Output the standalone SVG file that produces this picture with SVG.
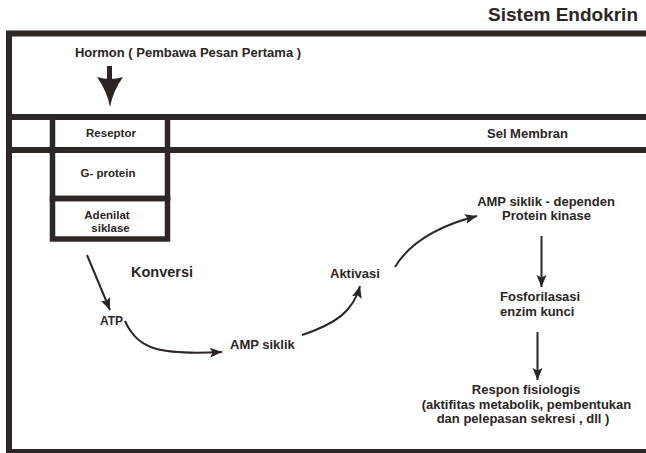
<svg xmlns="http://www.w3.org/2000/svg" width="646" height="453" viewBox="0 0 646 453">
  <style>
    text { font-family: "Liberation Sans", Arial, sans-serif; font-weight: bold; fill: #2b2524; }
    .frame { fill: none; stroke: #2e2725; stroke-width: 6; }
    .box { fill: none; stroke: #2e2725; stroke-width: 5.5; }
    .lbl { font-size: 11.5px; text-anchor: middle; }
    .t13 { font-size: 13px; }
    .mid { text-anchor: middle; }
    .conn { fill: none; stroke: #2b2524; stroke-width: 2; marker-end: url(#head); }
  </style>
  <defs>
    <marker id="head" markerUnits="userSpaceOnUse" markerWidth="14" markerHeight="12" refX="12" refY="5" orient="auto">
      <path d="M0,0 L12,5 L0,10 L2.5,5 Z" fill="#2b2524"/>
    </marker>
  </defs>

  <rect width="646" height="453" fill="#ffffff"/>

  <!-- title -->
  <text x="638" y="21" font-size="19" text-anchor="end">Sistem Endokrin</text>

  <!-- outer frame, open on the right -->
  <path class="frame" d="M646,33.5 H9 V452 H646"/>

  <!-- cell membrane band -->
  <g id="membrane">
    <line class="frame" x1="9" y1="117" x2="646" y2="117"/>
    <line class="frame" x1="9" y1="150" x2="646" y2="150"/>
    <text class="t13" x="487" y="138" font-size="13.5">Sel Membran</text>
  </g>

  <!-- hormone signal -->
  <g id="hormon">
    <text class="t13 mid" x="188" y="57">Hormon ( Pembawa Pesan Pertama )</text>
    <rect x="107" y="66" width="5" height="14" fill="#2b2524"/>
    <path d="M97,77 Q110,81 123,77 Q113,91 110,107 Q107,91 97,77 Z" fill="#2b2524"/>
  </g>

  <g id="reseptor">
    <rect class="box" x="52.5" y="117" width="115" height="33"/>
    <text class="lbl" x="111" y="137">Reseptor</text>
  </g>
  <g id="g-protein">
    <rect class="box" x="52.5" y="150" width="115" height="48.5"/>
    <text class="lbl" x="108" y="177">G- protein</text>
  </g>
  <g id="adenilat-siklase">
    <rect class="box" x="52.5" y="198.5" width="115" height="40.5"/>
    <text class="lbl" x="107" y="219">Adenilat</text>
    <text class="lbl" x="110.5" y="232">siklase</text>
  </g>

  <g id="konversi">
    <text x="131" y="277" font-size="14.5">Konversi</text>
  </g>
  <g id="atp">
    <text x="100" y="325" font-size="12">ATP</text>
  </g>
  <g id="amp-siklik">
    <text class="t13" x="230" y="349">AMP siklik</text>
  </g>
  <g id="aktivasi">
    <text class="t13" x="330" y="278">Aktivasi</text>
  </g>
  <g id="protein-kinase">
    <text class="t13 mid" x="546" y="206">AMP siklik - dependen</text>
    <text class="t13 mid" x="546.5" y="220">Protein kinase</text>
  </g>
  <g id="fosforilasi">
    <text class="t13" x="500" y="301">Fosforilasasi</text>
    <text class="t13" x="500" y="316">enzim kunci</text>
  </g>
  <g id="respon">
    <text class="t13 mid" x="526" y="394">Respon fisiologis</text>
    <text class="t13 mid" x="526.5" y="409">(aktifitas metabolik, pembentukan</text>
    <text class="t13 mid" x="523" y="423">dan pelepasan sekresi , dll )</text>
  </g>

  <!-- connectors -->
  <g id="connectors">
    <path class="conn" d="M87,255 L110,310"/>
    <path class="conn" d="M125,321 C138,350 160,355 222,352"/>
    <path class="conn" d="M302,335 C335,324 353,312 360,286"/>
    <path class="conn" d="M395,267 C410,242 438,226 477,216"/>
    <path class="conn" d="M541.5,236 L541.5,287"/>
    <path class="conn" d="M537.5,332 L537.5,380"/>
  </g>
</svg>
